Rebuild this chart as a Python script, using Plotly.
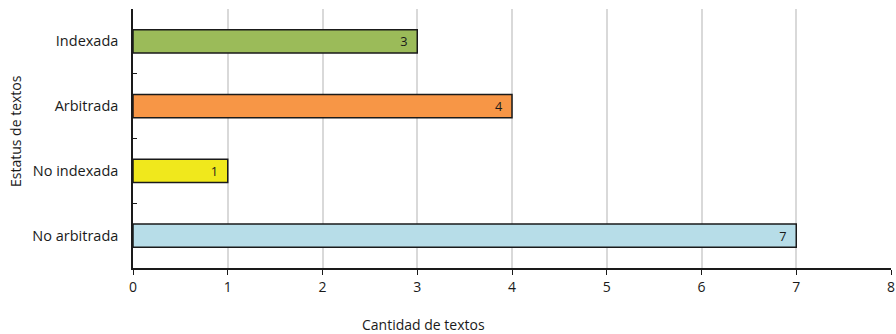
import plotly.graph_objs as go

categorias = ['No arbitrada', 'No indexada', 'Arbitrada', 'Indexada']
cantidades = [7, 1, 4, 3]
colores = ['#b7dde8', '#f0e81c', '#f79646', '#9bbb59']
ticks_x = [0, 1, 2, 3, 4, 5, 6, 7, 8]

fuente = 'Open Sans, Lato, sans-serif'

trace = go.Bar(
	y=categorias,
	x=cantidades,
	orientation='h',
	marker=dict(color=colores, line=dict(color='#1a1a1a', width=1.5)),
	text=[str(v) + '  ' for v in cantidades],
	textposition='inside',
	insidetextanchor='end',
	textangle=0,
	textfont=dict(color='#1a1a1a', size=14, family=fuente),
	width=0.36,
	hoverinfo='x+y',
)

fig = go.Figure(data=[trace])
fig.update_layout(
	width=896, height=334,
	paper_bgcolor='white', plot_bgcolor='white',
	showlegend=False,
	font=dict(family=fuente, size=14, color='#1a1a1a'),
	margin=dict(l=133, r=5, t=9, b=66),
	xaxis=dict(range=[0, 8], tickvals=ticks_x, showgrid=True, gridcolor='#d9d9d9', gridwidth=2,
				showline=True, linecolor='#1a1a1a', linewidth=1.5, ticks='outside', ticklen=5,
				tickcolor='#1a1a1a', zeroline=False, tickfont=dict(size=14), automargin=False),
	yaxis=dict(categoryorder='array', categoryarray=categorias, type='category',
				showline=True, linecolor='#1a1a1a', linewidth=1.5, ticks='inside', ticklen=4,
				tickson='boundaries', tickcolor='#1a1a1a', showgrid=False, ticklabelstandoff=10,
				tickfont=dict(size=14.5), automargin=False),
	annotations=[
		dict(text='Cantidad de textos', xref='paper', yref='paper', x=(423-133)/758, y=-0.175,
			 xanchor='center', yanchor='top', showarrow=False, font=dict(size=14)),
		dict(text='Estatus de textos', xref='paper', yref='paper', x=-(133-15)/758, y=(268-131)/259,
			 xanchor='center', yanchor='middle', textangle=-90, showarrow=False, font=dict(size=14)),
	],
)

# quitar el margen por defecto del body para que el grafico empiece en 0,0
fig.write_html('out.html', config={'displayModeBar': False},
			   post_script="document.body.style.margin='0';document.body.style.overflow='hidden';")
